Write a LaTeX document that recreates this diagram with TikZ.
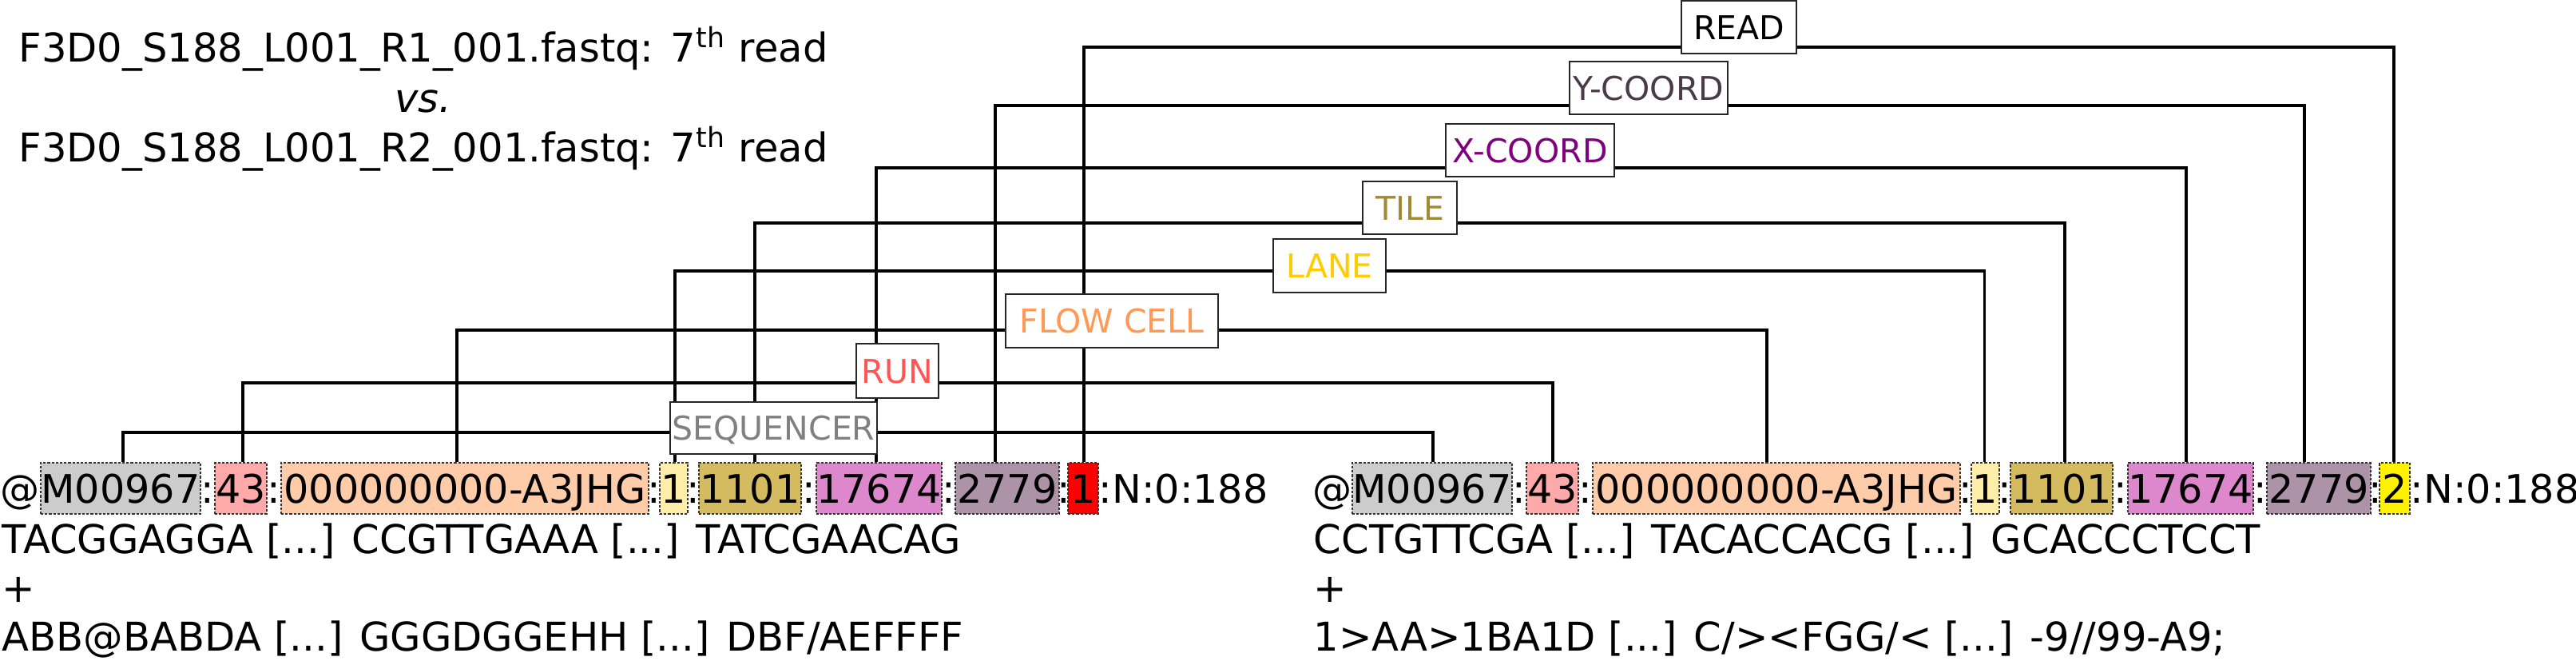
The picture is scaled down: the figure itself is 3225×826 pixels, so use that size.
\documentclass[tikz,border=0pt]{standalone}
\usepackage{fontspec}
\setmainfont{DejaVu Sans}
\definecolor{cM}{HTML}{CCCCCC}
\definecolor{cRun}{HTML}{FFAAAA}
\definecolor{cFlow}{HTML}{FFCCAA}
\definecolor{cLane}{HTML}{FFEEAA}
\definecolor{cTile}{HTML}{D4BB5F}
\definecolor{cX}{HTML}{DD88CC}
\definecolor{cY}{HTML}{AC93A7}
\definecolor{tSeq}{HTML}{808080}
\definecolor{tRun}{HTML}{FF5555}
\definecolor{tFlow}{HTML}{FF9955}
\definecolor{tLane}{HTML}{FFCC00}
\definecolor{tTile}{HTML}{A08A33}
\definecolor{tX}{HTML}{800080}
\definecolor{tY}{HTML}{4A3B48}
\begin{document}
\begin{tikzpicture}[x=0.25pt,y=-0.25pt,
  txt/.style={inner sep=0pt,font=\fontsize{12.3}{15}\selectfont},
  seqtxt/.style={inner sep=0pt,font=\fontsize{12.4}{15}\selectfont,anchor=base west},
  ttl/.style={inner sep=0pt,font=\fontsize{12.4}{15}\selectfont,anchor=base},
  plain/.style={txt,text height=9pt,text depth=0pt},
  fld/.style={plain,draw=black!80,line width=0.35pt,dash pattern=on 0.8pt off 0.5pt,minimum height=16pt},
  lab/.style={draw=black!85,line width=0.5pt,fill=white,inner sep=0pt,
    font=\fontsize{10.25}{12}\selectfont,text height=7.5pt,text depth=0pt,minimum height=16.6pt},
  conn/.style={line width=0.85pt,black}]
\useasboundingbox (0,0) rectangle (3225,826);

% title
\node[ttl] (t1) at (530,77) {F3D0\_S188\_L001\_R1\_001.fastq: 7\textsuperscript{th} read};
\node[ttl] (t2) at (530,140) {\itshape vs.};
\node[ttl] (t3) at (530,202) {F3D0\_S188\_L001\_R2\_001.fastq: 7\textsuperscript{th} read};

% left header
\node[plain,anchor=east] (Lat) at (51,611) {@};
\node[fld,fill=cM,minimum width=50pt] (Lseq) at (151,611) {M00967};
\node[plain] (Lc1) at (260,611) {:};
\node[fld,fill=cRun,minimum width=16.25pt] (Lrun) at (301.5,611) {43};
\node[plain] (Lc2) at (343,611) {:};
\node[fld,fill=cFlow,minimum width=115pt] (Lflow) at (582,611) {000000000-A3JHG};
\node[plain] (Lc3) at (819,611) {:};
\node[fld,fill=cLane,minimum width=8.75pt] (Llane) at (843.5,611) {1};
\node[plain] (Lc4) at (868,611) {:};
\node[fld,fill=cTile,minimum width=32pt] (Ltile) at (939,611) {1101};
\node[plain] (Lc5) at (1012.5,611) {:};
\node[fld,fill=cX,minimum width=39.25pt] (Lx) at (1100.5,611) {17674};
\node[plain] (Lc6) at (1187.5,611) {:};
\node[fld,fill=cY,minimum width=32.5pt] (Ly) at (1261,611) {2779};
\node[plain] (Lc7) at (1331.5,611) {:};
\node[fld,fill=red,minimum width=9.5pt] (Lread) at (1356,611) {1};
\node[plain,anchor=west] (Ltail) at (1375,611) {:N:0:188};
\node[seqtxt] (Ls) at (2,692) {TACGGAGGA [...] CCGTTGAAA [...] TATCGAACAG};
\node[seqtxt] (Lp) at (2,753) {+};
\node[seqtxt] (Lq) at (2,814) {ABB@BABDA [...] GGGDGGEHH [...] DBF/AEFFFF};

% right header
\node[plain,anchor=east] (Rat) at (1693,611) {@};
\node[fld,fill=cM,minimum width=50pt] (Rseq) at (1793,611) {M00967};
\node[plain] (Rc1) at (1902,611) {:};
\node[fld,fill=cRun,minimum width=16.25pt] (Rrun) at (1943.5,611) {43};
\node[plain] (Rc2) at (1985,611) {:};
\node[fld,fill=cFlow,minimum width=115pt] (Rflow) at (2224,611) {000000000-A3JHG};
\node[plain] (Rc3) at (2461,611) {:};
\node[fld,fill=cLane,minimum width=8.75pt] (Rlane) at (2485.5,611) {1};
\node[plain] (Rc4) at (2510,611) {:};
\node[fld,fill=cTile,minimum width=32pt] (Rtile) at (2581,611) {1101};
\node[plain] (Rc5) at (2654.5,611) {:};
\node[fld,fill=cX,minimum width=39.25pt] (Rx) at (2742.5,611) {17674};
\node[plain] (Rc6) at (2829.5,611) {:};
\node[fld,fill=cY,minimum width=32.5pt] (Ry) at (2903,611) {2779};
\node[plain] (Rc7) at (2973.5,611) {:};
\node[fld,fill=yellow,minimum width=9.5pt] (Rread) at (2998,611) {2};
\node[plain,anchor=west] (Rtail) at (3017,611) {:N:0:188};
\node[seqtxt] (Rs) at (1644,692) {CCTGTTCGA [...] TACACCACG [...] GCACCCTCCT};
\node[seqtxt] (Rp) at (1644,753) {+};
\node[seqtxt] (Rq) at (1644,814) {1>AA>1BA1D [...] C/><FGG/< [...] -9//99-A9;};

% connector corners
\coordinate (seqA) at (154,541);   \coordinate (seqB) at (1794,541);
\coordinate (runA) at (304,479);   \coordinate (runB) at (1944,479);
\coordinate (flowA) at (572,413);  \coordinate (flowB) at (2212,413);
\coordinate (laneA) at (845,339);  \coordinate (laneB) at (2484.5,339);
\coordinate (tileA) at (945,279);  \coordinate (tileB) at (2585,279);
\coordinate (xA) at (1097,210);    \coordinate (xB) at (2737,210);
\coordinate (yA) at (1246,132);    \coordinate (yB) at (2885,132);
\coordinate (readA) at (1357,59);  \coordinate (readB) at (2997,59);

\draw[conn] (Lseq.north -| seqA) -- (seqA) -- (seqB) -- (Rseq.north -| seqB);
\draw[conn] (Lrun.north -| runA) -- (runA) -- (runB) -- (Rrun.north -| runB);
\draw[conn] (Lflow.north -| flowA) -- (flowA) -- (flowB) -- (Rflow.north -| flowB);
\draw[conn] (Llane.north -| laneA) -- (laneA) -- (laneB) -- (Rlane.north -| laneB);
\draw[conn] (Ltile.north -| tileA) -- (tileA) -- (tileB) -- (Rtile.north -| tileB);
\draw[conn] (Lx.north -| xA) -- (xA) -- (xB) -- (Rx.north -| xB);
\draw[conn] (Ly.north -| yA) -- (yA) -- (yB) -- (Ry.north -| yB);
\draw[conn] (Lread.north -| readA) -- (readA) -- (readB) -- (Rread.north -| readB);

% labels
\node[lab,text=tSeq,minimum width=64.75pt,minimum height=16.25pt] (labSeq) at (968.5,535.5) {SEQUENCER};
\node[lab,text=tRun,minimum width=25.75pt,minimum height=17pt] (labRun) at (1123.5,464) {RUN};
\node[lab,text=tFlow,minimum width=66.5pt] (labFlow) at (1392,401.5) {FLOW CELL};
\node[lab,text=tLane,minimum width=35.25pt] (labLane) at (1664.5,332.5) {LANE};
\node[lab,text=tTile,minimum width=29.5pt] (labTile) at (1765,260) {TILE};
\node[lab,text=tX,minimum width=52.75pt] (labX) at (1915.5,188) {X-COORD};
\node[lab,text=tY,minimum width=49.5pt] (labY) at (2064,110) {Y-COORD};
\node[lab,text=black,minimum width=36pt] (labRead) at (2177,34) {READ};
\end{tikzpicture}
\end{document}
